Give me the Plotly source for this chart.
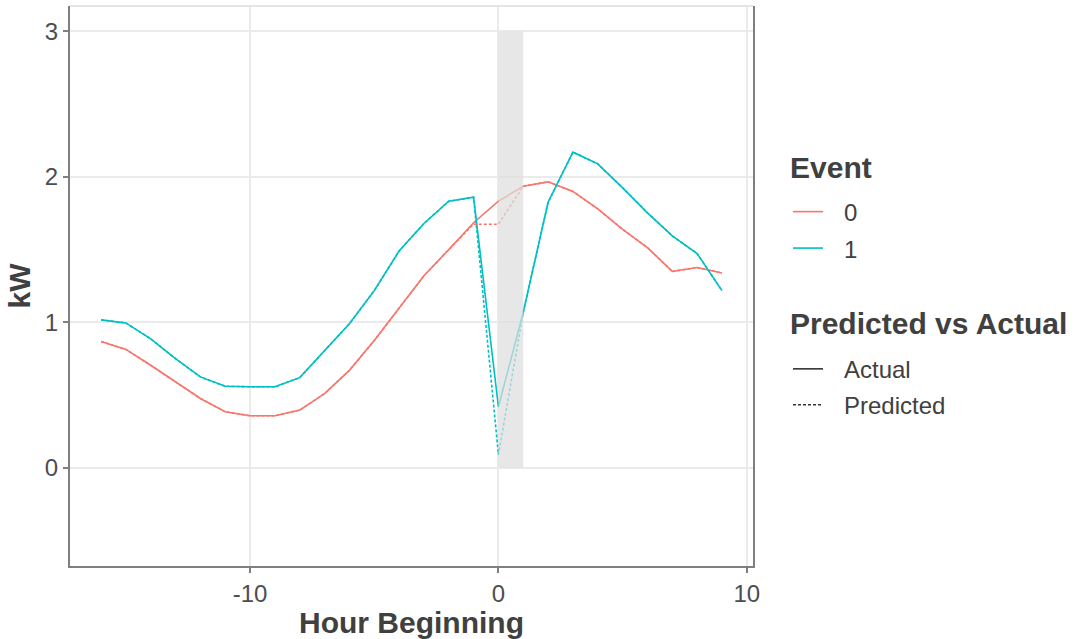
import plotly.graph_objects as go

hours = list(range(-16, 10))

event0_actual = [0.869, 0.814, 0.705, 0.59, 0.477, 0.385, 0.358, 0.358, 0.397, 0.51,
                 0.67, 0.875, 1.10, 1.32, 1.50, 1.685, 1.833, 1.936, 1.966, 1.90,
                 1.78, 1.64, 1.514, 1.35, 1.377, 1.339]
event0_pred = [0.869, 0.814, 0.705, 0.59, 0.477, 0.385, 0.358, 0.358, 0.397, 0.51,
               0.67, 0.875, 1.10, 1.32, 1.50, 1.675, 1.675, 1.936, 1.966, 1.90,
               1.78, 1.64, 1.514, 1.35, 1.377, 1.339]
event1_actual = [1.017, 0.996, 0.887, 0.75, 0.625, 0.561, 0.557, 0.557, 0.62, 0.807,
                 0.99, 1.218, 1.49, 1.68, 1.833, 1.86, 0.42, 1.07, 1.826, 2.17,
                 2.09, 1.925, 1.753, 1.594, 1.473, 1.218]
event1_pred = [1.017, 0.996, 0.887, 0.75, 0.625, 0.561, 0.557, 0.557, 0.62, 0.807,
               0.99, 1.218, 1.49, 1.68, 1.833, 1.86, 0.09, 1.07, 1.826, 2.17,
               2.09, 1.925, 1.753, 1.594, 1.473, 1.218]

event_labels = ["0", "1"]
event_colors = ["#F8766D", "#00BFC4"]
type_labels = ["Actual", "Predicted"]
legend_titles = ["Event", "Predicted vs Actual"]

event_window = [0, 1]
window_kw = [0, 3]

x_ticks = [-10, 0, 10]
x_tick_text = ["-10", "0", "10"]
y_ticks = [0, 1, 2, 3]

FONT = "Liberation Sans, Arial, sans-serif"
DOT = "3px,2px"
LW = 1.6
TITLE_SIZE = 30

# plot area in pixels (for placing the hand-drawn legend)
L, R, T, B = 70, 753, 5.5, 566.5
def px(xp):
    return (xp - L) / (R - L)
def py(yp):
    return 1 - (yp - T) / (B - T)

fig = go.Figure()

series = [(event0_actual, event0_pred), (event1_actual, event1_pred)]
for (act, pred), lab, col in zip(series, event_labels, event_colors):
    fig.add_trace(go.Scatter(x=hours, y=act, mode="lines", name=lab, showlegend=False,
                             line=dict(color=col, width=LW)))
for (act, pred), lab, col in zip(series, event_labels, event_colors):
    fig.add_trace(go.Scatter(x=hours, y=pred, mode="lines", name=lab, showlegend=False,
                             line=dict(color=col, width=LW, dash=DOT)))

fig.add_shape(type="rect", xref="x", yref="y",
              x0=event_window[0], x1=event_window[1], y0=window_kw[0], y1=window_kw[1],
              fillcolor="rgba(222,222,222,0.72)", line=dict(width=0), layer="above")

# top border
fig.add_shape(type="line", xref="paper", yref="paper", x0=0, x1=1, y0=1, y1=1,
              line=dict(color="#DDDDDD", width=1.5))

# ---- legends (drawn by hand to match ggplot spacing) ----
annotations = []
def title(text, ypix):
    annotations.append(dict(xref="paper", yref="paper", x=px(788), y=py(ypix),
                            xanchor="left", yanchor="middle", showarrow=False,
                            text="<b>%s</b>" % text,
                            font=dict(size=TITLE_SIZE, color="#404040", family=FONT)))
def entry(text, ypix, color, dash):
    fig.add_shape(type="line", xref="paper", yref="paper",
                  x0=px(793), x1=px(823), y0=py(ypix), y1=py(ypix),
                  line=dict(color=color, width=LW, dash=dash))
    annotations.append(dict(xref="paper", yref="paper", x=px(842), y=py(ypix + 1),
                            xanchor="left", yanchor="middle", showarrow=False,
                            text=text, font=dict(size=24, color="#404040", family=FONT)))

title(legend_titles[0], 167)
entry(event_labels[0], 211.5, event_colors[0], "solid")
entry(event_labels[1], 248, event_colors[1], "solid")
title(legend_titles[1], 324)
entry(type_labels[0], 369, "#333333", "solid")
entry(type_labels[1], 405, "#333333", DOT)

fig.update_layout(
    width=1082, height=639,
    margin=dict(l=L, r=1082 - R, t=6, b=73),
    paper_bgcolor="white", plot_bgcolor="white",
    font=dict(family=FONT, color="#4D4D4D", size=24),
    showlegend=False,
    annotations=annotations,
    xaxis=dict(range=[-17.25, 10.25], tickvals=x_ticks, ticktext=x_tick_text, showgrid=True,
               gridcolor="#EBEBEB", gridwidth=1.6, zeroline=False,
               showline=True, linecolor="#7F7F7F", linewidth=2, mirror=False,
               ticks="outside", ticklen=5, tickwidth=1.5, tickcolor="#7F7F7F",
               tickfont=dict(size=24, color="#4D4D4D"),
               title=dict(text="<b>Hour Beginning</b>", font=dict(size=TITLE_SIZE, color="#404040"),
                          standoff=0)),
    yaxis=dict(range=[-0.675, 3.175], tickvals=y_ticks, showgrid=True,
               gridcolor="#EBEBEB", gridwidth=1.6, zeroline=False,
               showline=True, linecolor="#7F7F7F", linewidth=2, mirror=True,
               ticks="outside", ticklen=5, tickwidth=1.5, tickcolor="#7F7F7F",
               tickfont=dict(size=24, color="#4D4D4D"),
               title=dict(text="<b>kW</b>", font=dict(size=TITLE_SIZE, color="#404040"),
                          standoff=5)),
)

fig.write_html("out.html")
